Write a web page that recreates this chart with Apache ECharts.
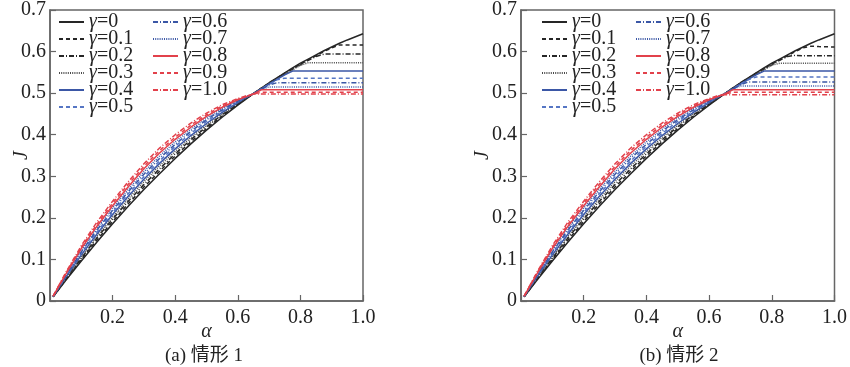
<!DOCTYPE html>
<html><head><meta charset="utf-8">
<script src="https://cdn.jsdelivr.net/npm/echarts@6/dist/echarts.min.js"></script>
<style>html,body{margin:0;padding:0;background:#fff}#c{width:850px;height:367px}</style>
</head><body><div id="c"></div>
<script>
// alpha grid
const alpha = [0.01,0.05,0.1,0.15,0.2,0.25,0.3,0.35,0.4,0.45,0.5,0.55,0.6,0.625,0.65,0.675,0.7,0.725,0.75,0.775,0.8,0.825,0.85,0.875,0.9,0.925,0.95,1.0];
const gammaNames = ['γ=0','γ=0.1','γ=0.2','γ=0.3','γ=0.4','γ=0.5','γ=0.6','γ=0.7','γ=0.8','γ=0.9','γ=1.0'];
const xTicks = [0.2,0.4,0.6,0.8,1.0];
const yTicks = [0,0.1,0.2,0.3,0.4,0.5,0.6,0.7];
const captions = ['(a) 情形 1','(b) 情形 2'];

// case 1 (left)
const c1_g00 = [0.010,0.049,0.096,0.142,0.186,0.228,0.268,0.306,0.343,0.378,0.411,0.442,0.471,0.485,0.499,0.512,0.525,0.537,0.549,0.561,0.572,0.582,0.592,0.602,0.611,0.620,0.628,0.643];
const c1_g01 = [0.010,0.051,0.100,0.147,0.191,0.234,0.274,0.312,0.349,0.383,0.415,0.445,0.473,0.486,0.499,0.512,0.524,0.536,0.548,0.559,0.570,0.580,0.590,0.600,0.609,0.616,0.616,0.616];
const c1_g02 = [0.010,0.053,0.103,0.152,0.197,0.240,0.280,0.318,0.354,0.388,0.419,0.448,0.474,0.487,0.499,0.511,0.523,0.535,0.547,0.558,0.568,0.579,0.588,0.594,0.594,0.594,0.594,0.594];
const c1_g03 = [0.011,0.055,0.107,0.156,0.202,0.246,0.287,0.325,0.360,0.393,0.423,0.451,0.476,0.488,0.499,0.511,0.523,0.534,0.546,0.556,0.567,0.573,0.573,0.573,0.573,0.573,0.573,0.573];
const c1_g04 = [0.011,0.057,0.111,0.161,0.208,0.252,0.293,0.331,0.366,0.398,0.427,0.454,0.477,0.489,0.499,0.510,0.522,0.533,0.544,0.553,0.553,0.553,0.553,0.553,0.553,0.553,0.553,0.553];
const c1_g05 = [0.011,0.059,0.115,0.166,0.213,0.258,0.299,0.337,0.372,0.403,0.432,0.457,0.479,0.490,0.499,0.510,0.521,0.532,0.536,0.536,0.536,0.536,0.536,0.536,0.536,0.536,0.536,0.536];
const c1_g06 = [0.011,0.060,0.118,0.171,0.218,0.263,0.305,0.343,0.377,0.408,0.436,0.460,0.481,0.490,0.498,0.509,0.520,0.525,0.525,0.525,0.525,0.525,0.525,0.525,0.525,0.525,0.525,0.525];
const c1_g07 = [0.011,0.062,0.122,0.176,0.224,0.269,0.311,0.349,0.383,0.413,0.440,0.463,0.482,0.491,0.498,0.509,0.515,0.515,0.515,0.515,0.515,0.515,0.515,0.515,0.515,0.515,0.515,0.515];
const c1_g08 = [0.012,0.064,0.126,0.180,0.229,0.275,0.318,0.356,0.389,0.418,0.444,0.466,0.484,0.491,0.498,0.508,0.508,0.508,0.508,0.508,0.508,0.508,0.508,0.508,0.508,0.508,0.508,0.508];
const c1_g09 = [0.012,0.066,0.129,0.185,0.235,0.281,0.324,0.362,0.394,0.423,0.448,0.469,0.485,0.492,0.498,0.502,0.502,0.502,0.502,0.502,0.502,0.502,0.502,0.502,0.502,0.502,0.502,0.502];
const c1_g10 = [0.012,0.068,0.133,0.190,0.240,0.287,0.330,0.368,0.400,0.428,0.452,0.472,0.487,0.493,0.498,0.498,0.498,0.498,0.498,0.498,0.498,0.498,0.498,0.498,0.498,0.498,0.498,0.498];

// case 2 (right)
const c2_g00 = [0.010,0.049,0.096,0.142,0.186,0.228,0.268,0.306,0.343,0.378,0.411,0.442,0.471,0.485,0.499,0.512,0.525,0.537,0.549,0.561,0.572,0.582,0.592,0.602,0.611,0.620,0.628,0.643];
const c2_g01 = [0.010,0.051,0.100,0.147,0.191,0.234,0.274,0.312,0.349,0.383,0.415,0.445,0.473,0.486,0.499,0.512,0.524,0.536,0.548,0.559,0.570,0.580,0.590,0.600,0.609,0.613,0.612,0.611];
const c2_g02 = [0.010,0.053,0.103,0.152,0.197,0.240,0.280,0.318,0.354,0.388,0.419,0.448,0.474,0.487,0.499,0.511,0.523,0.535,0.547,0.558,0.568,0.579,0.588,0.591,0.590,0.590,0.590,0.590];
const c2_g03 = [0.011,0.055,0.107,0.156,0.202,0.246,0.287,0.325,0.360,0.393,0.423,0.451,0.476,0.488,0.499,0.511,0.523,0.534,0.546,0.556,0.567,0.572,0.572,0.572,0.572,0.572,0.572,0.572];
const c2_g04 = [0.011,0.057,0.111,0.161,0.208,0.252,0.293,0.331,0.366,0.398,0.427,0.454,0.477,0.489,0.499,0.510,0.522,0.533,0.544,0.553,0.553,0.553,0.553,0.553,0.553,0.553,0.553,0.553];
const c2_g05 = [0.011,0.059,0.115,0.166,0.213,0.258,0.299,0.337,0.372,0.403,0.432,0.457,0.479,0.490,0.499,0.510,0.521,0.532,0.539,0.539,0.539,0.539,0.539,0.539,0.539,0.539,0.539,0.539];
const c2_g06 = [0.011,0.060,0.118,0.171,0.218,0.263,0.305,0.343,0.377,0.408,0.436,0.460,0.481,0.490,0.498,0.509,0.520,0.527,0.527,0.527,0.527,0.527,0.527,0.527,0.527,0.527,0.527,0.527];
const c2_g07 = [0.011,0.062,0.122,0.176,0.224,0.269,0.311,0.349,0.383,0.413,0.440,0.463,0.482,0.491,0.498,0.509,0.517,0.517,0.517,0.517,0.517,0.517,0.517,0.517,0.517,0.517,0.517,0.517];
const c2_g08 = [0.012,0.064,0.126,0.180,0.229,0.275,0.318,0.356,0.389,0.418,0.444,0.466,0.484,0.491,0.498,0.508,0.508,0.508,0.508,0.508,0.508,0.508,0.508,0.508,0.508,0.508,0.508,0.508];
const c2_g09 = [0.012,0.066,0.129,0.185,0.235,0.281,0.324,0.362,0.394,0.423,0.448,0.469,0.485,0.492,0.498,0.502,0.502,0.502,0.502,0.502,0.502,0.502,0.502,0.502,0.502,0.502,0.502,0.502];
const c2_g10 = [0.012,0.068,0.133,0.190,0.240,0.287,0.330,0.368,0.400,0.428,0.452,0.472,0.487,0.493,0.496,0.496,0.496,0.496,0.496,0.496,0.496,0.496,0.496,0.496,0.496,0.496,0.496,0.496];

const case1 = [c1_g00,c1_g01,c1_g02,c1_g03,c1_g04,c1_g05,c1_g06,c1_g07,c1_g08,c1_g09,c1_g10];
const case2 = [c2_g00,c2_g01,c2_g02,c2_g03,c2_g04,c2_g05,c2_g06,c2_g07,c2_g08,c2_g09,c2_g10];

const BLK='#262626', GRY='#4a4a4a', BLU='#3b57a6', LBL='#5676c4', RED='#e2414b';
const styles = [
  {color:BLK, type:'solid'},
  {color:BLK, type:[4,3]},
  {color:BLK, type:[5,2,1,2]},
  {color:GRY, type:[1,1.2]},
  {color:BLU, type:'solid'},
  {color:LBL, type:[4,3]},
  {color:BLU, type:[5,2,1,2]},
  {color:BLU, type:[1,1.2]},
  {color:RED, type:'solid'},
  {color:RED, type:[4,3]},
  {color:RED, type:[5,2,1,2]}
];

const SERIF = '"Liberation Serif", "Times New Roman", serif';
const AXC = '#666';
const FS = 20;
const grids = [
  {left:50, right:487, top:10, bottom:66, show:true, borderColor:AXC, borderWidth:1.5},
  {left:521, right:13, top:10, bottom:66, show:true, borderColor:AXC, borderWidth:1.5}
];
const yNameGaps = [18, 28];
function xAxisFor(k){
  return {gridIndex:k, type:'value', min:0, max:1, interval:0.2,
    axisLine:{lineStyle:{color:AXC, width:1.5}},
    axisTick:{inside:true, length:6, lineStyle:{color:AXC, width:1.2}},
    splitLine:{show:false},
    axisLabel:{margin:7, fontSize:FS, fontFamily:SERIF, color:'#222',
      formatter:v => xTicks.some(t=>Math.abs(t-v)<1e-9) ? v.toFixed(1) : ''},
    name:'α', nameLocation:'middle', nameGap:21, nameMoveOverlap:false,
    nameTextStyle:{fontSize:FS, fontStyle:'italic', fontFamily:SERIF, color:'#222'}};
}
function yAxisFor(k){
  return {gridIndex:k, type:'value', min:0, max:0.7, interval:0.1,
    axisLine:{lineStyle:{color:AXC, width:1.5}},
    axisTick:{inside:true, length:6, lineStyle:{color:AXC, width:1.2}},
    splitLine:{show:false},
    axisLabel:{margin:4, fontSize:FS, fontFamily:SERIF, color:'#222',
      formatter:v => Math.abs(v)<1e-9 ? '0' : v.toFixed(1)},
    name:'J', nameLocation:'middle', nameGap:yNameGaps[k], nameRotate:90, nameMoveOverlap:false,
    nameTextStyle:{fontSize:FS, fontStyle:'italic', fontFamily:SERIF, color:'#222'}};
}
const series = [];
[case1, case2].forEach((cs,k)=>{
  cs.forEach((arr,i)=>{
    series.push({type:'line', name:gammaNames[i], xAxisIndex:k, yAxisIndex:k,
      data: alpha.map((a,j)=>[a, arr[j]]), symbol:'none', showSymbol:false,
      lineStyle:{color:styles[i].color, type:styles[i].type, width:1.5},
      itemStyle:{color:styles[i].color}, animation:false, silent:true});
  });
});
const rich = {
  g:{fontSize:FS, fontStyle:'italic', fontFamily:SERIF, color:'#222', lineHeight:17},
  n:{fontSize:FS, fontFamily:SERIF, color:'#222', lineHeight:17}
};
function legendAt(left, names){
  return {left:left, top:12, padding:0, orient:'vertical', data:names, itemWidth:25, itemHeight:10, itemGap:-3,
    selectedMode:false,
    itemStyle:{opacity:0, color:'rgba(0,0,0,0)', borderWidth:0},
    formatter:n => '{g|γ}{n|' + n.slice(1) + '}',
    textStyle:{fontSize:FS, fontFamily:SERIF, color:'#222', lineHeight:17, rich:rich}};
}
const legends = [
  legendAt(58, gammaNames.slice(0,6)), legendAt(152, gammaNames.slice(6)),
  legendAt(541, gammaNames.slice(0,6)), legendAt(635, gammaNames.slice(6))
];
const chart = echarts.init(document.getElementById('c'), null, {renderer:'canvas'});
chart.setOption({
  animation:false,
  grid:grids, xAxis:[xAxisFor(0), xAxisFor(1)], yAxis:[yAxisFor(0), yAxisFor(1)],
  legend:legends, series:series,
  graphic:[
    {type:'text', x:204, y:356, style:{text:captions[0], font:'19px "Liberation Serif", "Noto Sans CJK SC"', fill:'#222', align:'center', verticalAlign:'middle'}},
    {type:'text', x:679, y:356, style:{text:captions[1], font:'19px "Liberation Serif", "Noto Sans CJK SC"', fill:'#222', align:'center', verticalAlign:'middle'}}
  ]
});
</script></body></html>
